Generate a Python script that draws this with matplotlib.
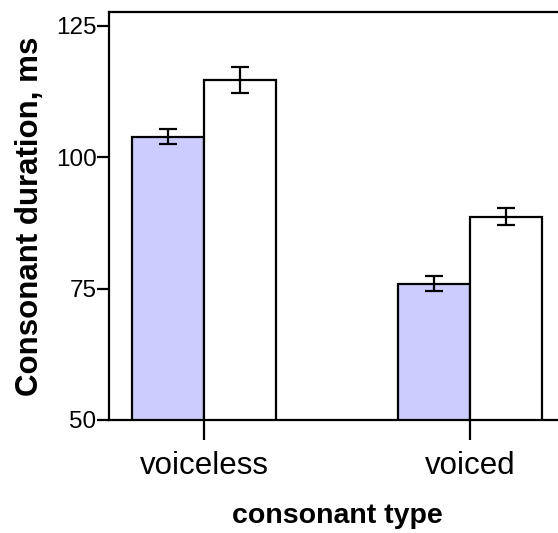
import matplotlib
matplotlib.use("Agg")
import matplotlib.pyplot as plt
import numpy as np

plt.rcParams['font.family'] = ['Liberation Sans', 'DejaVu Sans']

# data
groups = ['voiceless', 'voiced']
series_a = [103.9, 75.9]      # shaded bars
series_a_err = [1.4, 1.45]
series_b = [114.6, 88.7]      # white bars
series_b_err = [2.5, 1.6]
yticks = [50, 75, 100, 125]

fig = plt.figure(figsize=(5.58, 5.33), dpi=100)
ax = fig.add_axes([109/558, 113/533, 456/558, 408/533])

x = np.arange(len(groups))
w = 0.269
ekw = dict(elinewidth=1.6, capthick=1.6)
ax.bar(x - w/2, series_a, w, color='#ccccff', edgecolor='black', linewidth=1.6,
       yerr=series_a_err, capsize=6.5, error_kw=ekw, bottom=0)
ax.bar(x + w/2, series_b, w, color='white', edgecolor='black', linewidth=1.6,
       yerr=series_b_err, capsize=6.5, error_kw=ekw, bottom=0)

ax.set_xlim(-0.357, 1.357)
ax.set_ylim(50, 127.6)
ax.set_yticks(yticks)
ax.set_xticks(x)
ax.set_xticklabels(groups, fontsize=22.5)
ax.tick_params(axis='y', labelsize=17.5, length=9, width=1.6, pad=0)
ax.tick_params(axis='x', length=14.4, width=1.6, pad=8)
for s in ax.spines.values():
    s.set_linewidth(1.6)

ax.set_xlabel('consonant type', fontsize=20.5, fontweight='bold', labelpad=16)
ax.set_ylabel('Consonant duration, ms', fontsize=22.5, fontweight='bold', labelpad=8)

fig.savefig('out.png', dpi=100)
